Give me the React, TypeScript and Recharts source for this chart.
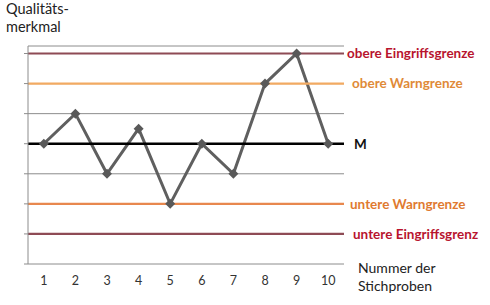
import { LineChart, Line, XAxis, YAxis, CartesianGrid, ReferenceLine } from "recharts";

const samples = [1, 2, 3, 4, 5, 6, 7, 8, 9, 10];
const values = [4, 5, 3, 4.5, 2, 4, 3, 6, 7, 4];
const yTicks = [0, 1, 2, 3, 4, 5, 6, 7];
const boundaries = [0.5, 1.5, 2.5, 3.5, 4.5, 5.5, 6.5, 7.5, 8.5, 9.5, 10.5];

const mean = 4;
const upperAction = 7;
const upperWarning = 6;
const lowerWarning = 2;
const lowerAction = 1;

const data = samples.map((n, i) => ({ n, v: values[i] }));

const font = "Lato, 'Open Sans', sans-serif";

const Diamond = (props: any) => {
  const { cx, cy } = props;
  if (cx == null || cy == null) return null;
  const r = 5;
  return (
    <polygon
      points={`${cx},${cy - r} ${cx + r},${cy} ${cx},${cy + r} ${cx - r},${cy}`}
      fill="#595959"
    />
  );
};

const sideLabel = (value: string, fill: string, offset: number) => ({
  value,
  position: "right" as const,
  offset,
  fill,
  fontSize: 13.5,
  fontWeight: 700,
  fontFamily: font,
});

export default function App() {
  return (
    <div style={{ position: "absolute", left: 0, top: 0, width: 490, height: 305, background: "#fff", fontFamily: font }}>
      <div style={{ position: "absolute", left: 6, top: 0, fontSize: 14.5, lineHeight: "18px", color: "#222" }}>
        Qualitäts-
        <br />
        merkmal
      </div>
      <div style={{ position: "absolute", left: 358, top: 259, fontSize: 14, lineHeight: "18px", color: "#222" }}>
        Nummer der
        <br />
        Stichproben
      </div>
      <LineChart width={490} height={305} data={data} margin={{ top: 46, right: 146, bottom: 0, left: 0 }}>
        <CartesianGrid vertical={false} stroke="#8c8c8c" strokeWidth={1} />
        <XAxis
          xAxisId="b"
          type="number"
          dataKey="n"
          domain={[0.5, 10.5]}
          ticks={boundaries}
          tickFormatter={() => ""}
          tickSize={5}
          height={0}
          stroke="#8c8c8c"
        />
        <XAxis
          type="number"
          dataKey="n"
          domain={[0.5, 10.5]}
          ticks={samples}
          tickLine={false}
          axisLine={false}
          tickSize={0}
          tickMargin={12}
          height={41}
          tick={{ fontSize: 12.5, fill: "#333", fontFamily: font }}
        />
        <YAxis
          domain={[0, 7.25]}
          ticks={yTicks}
          width={28}
          tickFormatter={() => ""}
          tickSize={4}
          stroke="#8c8c8c"
        />
        <Line
          type="linear"
          dataKey="v"
          stroke="#5f5f5f"
          strokeWidth={3}
          dot={<Diamond />}
          isAnimationActive={false}
        />
        <ReferenceLine y={upperAction} stroke="#8e4b55" strokeWidth={2.2} label={sideLabel("obere Eingriffsgrenze", "#b8142e", 3)} />
        <ReferenceLine y={upperWarning} stroke="#f2aa62" strokeWidth={2.2} label={sideLabel("obere Warngrenze", "#e08a38", 8)} />
        <ReferenceLine y={mean} stroke="#000" strokeWidth={2.5} label={sideLabel("M", "#111", 10)} />
        <ReferenceLine y={lowerWarning} stroke="#e8884e" strokeWidth={2.2} label={sideLabel("untere Warngrenze", "#e07a30", 6)} />
        <ReferenceLine y={lowerAction} stroke="#8e4b55" strokeWidth={2.2} label={sideLabel("untere Eingriffsgrenz", "#b8142e", 9)} />
      </LineChart>
    </div>
  );
}
